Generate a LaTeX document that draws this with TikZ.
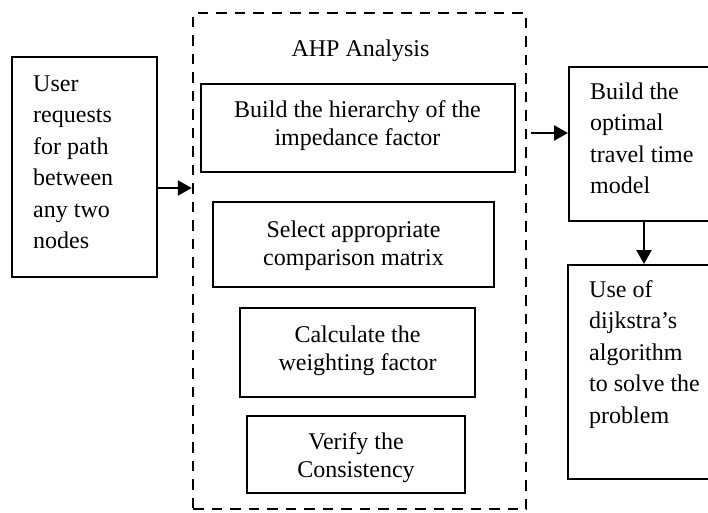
\documentclass[tikz,border=0pt]{standalone}
\usepackage{fontspec}
\setmainfont{Liberation Serif}
\usetikzlibrary{arrows.meta,calc}
\newcommand\ctrlines[1]{\vtop{\halign{\hfil##\hfil\cr#1\crcr}}}
\newcommand\leftlines[1]{\vtop{\halign{##\hfil\cr#1\crcr}}}
\begin{document}
\begin{tikzpicture}[x=1pt,y=-1pt,
  thinbox/.style={draw, line width=1.6pt, inner sep=0pt},
  sidebox/.style={draw, line width=2pt, inner sep=0pt},
  dashbox/.style={draw, line width=2.5pt, dash pattern=on 10.5pt off 8pt, inner sep=0pt},
  txt/.style={inner sep=0pt, anchor=base, font=\fontsize{24}{28}\selectfont},
  sidetxt/.style={inner sep=0pt, anchor=base west, font=\fontsize{24}{31.5}\selectfont},
  arr/.style={-{Triangle[length=14pt,width=15pt]}, line width=2.4pt}]
\useasboundingbox (0,0) rectangle (708,512);
\clip (0,0) rectangle (708,512);
\fill[white] (0,0) rectangle (708,512);

% left box
\node[thinbox, minimum width=145pt, minimum height=220pt] (L) at (84.5,167) {};
\node[sidetxt] (Lt) at (33,91) {\leftlines{User\cr requests\cr for path\cr between\cr any two\cr nodes}};

% dashed AHP box
\node[dashbox, minimum width=333pt, minimum height=496pt] (D) at (359.5,261) {};
\node[txt] (Dt) at (360.5,56) {AHP Analysis};

\node[thinbox, minimum width=314pt, minimum height=88pt] (B1) at (358,128) {};
\node[txt] (B1t) at (357.5,117) {\ctrlines{Build the hierarchy of the\cr impedance factor}};

\node[thinbox, minimum width=281pt, minimum height=85pt] (B2) at (353.5,244.5) {};
\node[txt] (B2t) at (353.5,237) {\ctrlines{Select appropriate\cr comparison matrix}};

\node[thinbox, minimum width=235pt, minimum height=89pt] (B3) at (357.5,352.5) {};
\node[txt] (B3t) at (357.5,342) {\ctrlines{Calculate the\cr weighting factor}};

\node[thinbox, minimum width=218pt, minimum height=77pt] (B4) at (356,454.5) {};
\node[txt] (B4t) at (356,449) {\ctrlines{Verify the\cr Consistency}};

% right boxes
\node[sidebox, minimum width=150pt, minimum height=154pt] (T) at (644,144) {};
\node[sidetxt] (Tt) at (590,99) {\leftlines{Build the\cr optimal\cr travel time\cr model}};

\node[sidebox, minimum width=152pt, minimum height=214pt] (Bt) at (644,372) {};
\node[sidetxt] (Btt) at (589,297) {\leftlines{Use of\cr dijkstra’s\cr algorithm\cr to solve the\cr problem}};

% connectors
\coordinate (a1) at (0,188);
\coordinate (a2) at (0,133);
\draw[arr] (L.east |- a1) -- (D.west |- a1);
\draw[arr, shorten <=4pt] (D.east |- a2) -- (T.west |- a2);
\draw[arr] (T.south) -- (Bt.north);
\end{tikzpicture}
\end{document}
